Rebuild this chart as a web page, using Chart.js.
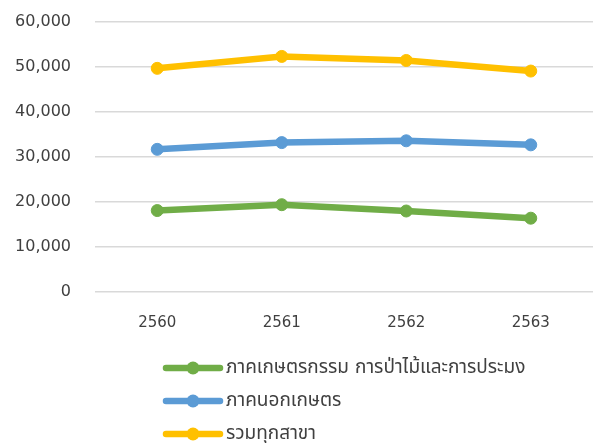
<!DOCTYPE html>
<html>
<head>
<meta charset="utf-8">
<script src="https://cdn.jsdelivr.net/npm/chart.js@4"></script>
<style>
html,body{margin:0;padding:0;background:#fff;}
#wrap{width:600px;height:443px;position:relative;}
</style>
</head>
<body>
<div id="wrap"><canvas id="c" width="600" height="443"></canvas></div>
<script>
const categories = ['2560', '2561', '2562', '2563'];
const seriesNames = ['ภาคเกษตรกรรม การป่าไม้และการประมง', 'ภาคนอกเกษตร', 'รวมทุกสาขา'];
const agriculture = [18100, 19400, 18000, 16400];
const nonAgriculture = [31700, 33200, 33600, 32700];
const allSectors = [49700, 52350, 51450, 49100];
const yTicks = [0, 10000, 20000, 30000, 40000, 50000, 60000];

const colors = ['#70AD47', '#5B9BD5', '#FFC000'];
const FONT = '"DejaVu Sans", "Noto Sans Thai", Loma, Garuda, Tahoma, sans-serif';

function ds(label, data, color) {
  return {
    label, data,
    borderColor: color, backgroundColor: color,
    borderWidth: 6.5,
    pointRadius: 6, pointHoverRadius: 6,
    pointBorderWidth: 1, pointBorderColor: color, pointBackgroundColor: color,
    tension: 0
  };
}

const legendPlugin = {
  id: 'customLegend',
  afterDraw(chart) {
    const ctx = chart.ctx;
    const rows = [368, 401, 434];
    ctx.save();
    chart.data.datasets.forEach((d, r) => {
      const y = rows[r];
      const color = d.borderColor;
      ctx.strokeStyle = color;
      ctx.lineWidth = 6.5;
      ctx.lineCap = 'round';
      ctx.beginPath();
      ctx.moveTo(166, y);
      ctx.lineTo(220, y);
      ctx.stroke();
      ctx.fillStyle = color;
      ctx.beginPath();
      ctx.arc(193, y, 6.5, 0, Math.PI * 2);
      ctx.fill();
      ctx.fillStyle = '#404040';
      ctx.font = '19px ' + FONT;
      ctx.textBaseline = 'middle';
      ctx.textAlign = 'left';
      ctx.fillText(d.label, 226, y);
    });
    ctx.restore();
  }
};

new Chart(document.getElementById('c'), {
  type: 'line',
  data: {
    labels: categories,
    datasets: [
      ds(seriesNames[0], agriculture, colors[0]),
      ds(seriesNames[1], nonAgriculture, colors[1]),
      ds(seriesNames[2], allSectors, colors[2])
    ]
  },
  options: {
    responsive: false,
    animation: false,
    events: [],
    layout: { padding: { left: 0, right: 1, top: 22, bottom: 101 } },
    plugins: { legend: { display: false }, tooltip: { enabled: false } },
    scales: {
      x: {
        offset: true,
        grid: { display: false, drawTicks: false },
        border: { display: false },
        ticks: { color: '#404040', font: { family: FONT, size: 15 }, padding: 22, maxRotation: 0 },
        afterFit(scale) { scale.height = 50; scale.paddingLeft = 0; scale.paddingRight = 0; }
      },
      y: {
        min: 0, max: 60000,
        afterBuildTicks(scale) { scale.ticks = yTicks.map(v => ({ value: v })); },
        grid: { color: '#D9D9D9', lineWidth: 1.5, drawTicks: false },
        border: { display: false },
        ticks: {
          color: '#404040', font: { family: FONT, size: 16 }, padding: 24,
          callback: v => v.toLocaleString('en-US')
        },
        afterFit(scale) { scale.width = 95; scale.paddingTop = 0; scale.paddingBottom = 0; }
      }
    }
  },
  plugins: [legendPlugin]
});
</script>
</body>
</html>
